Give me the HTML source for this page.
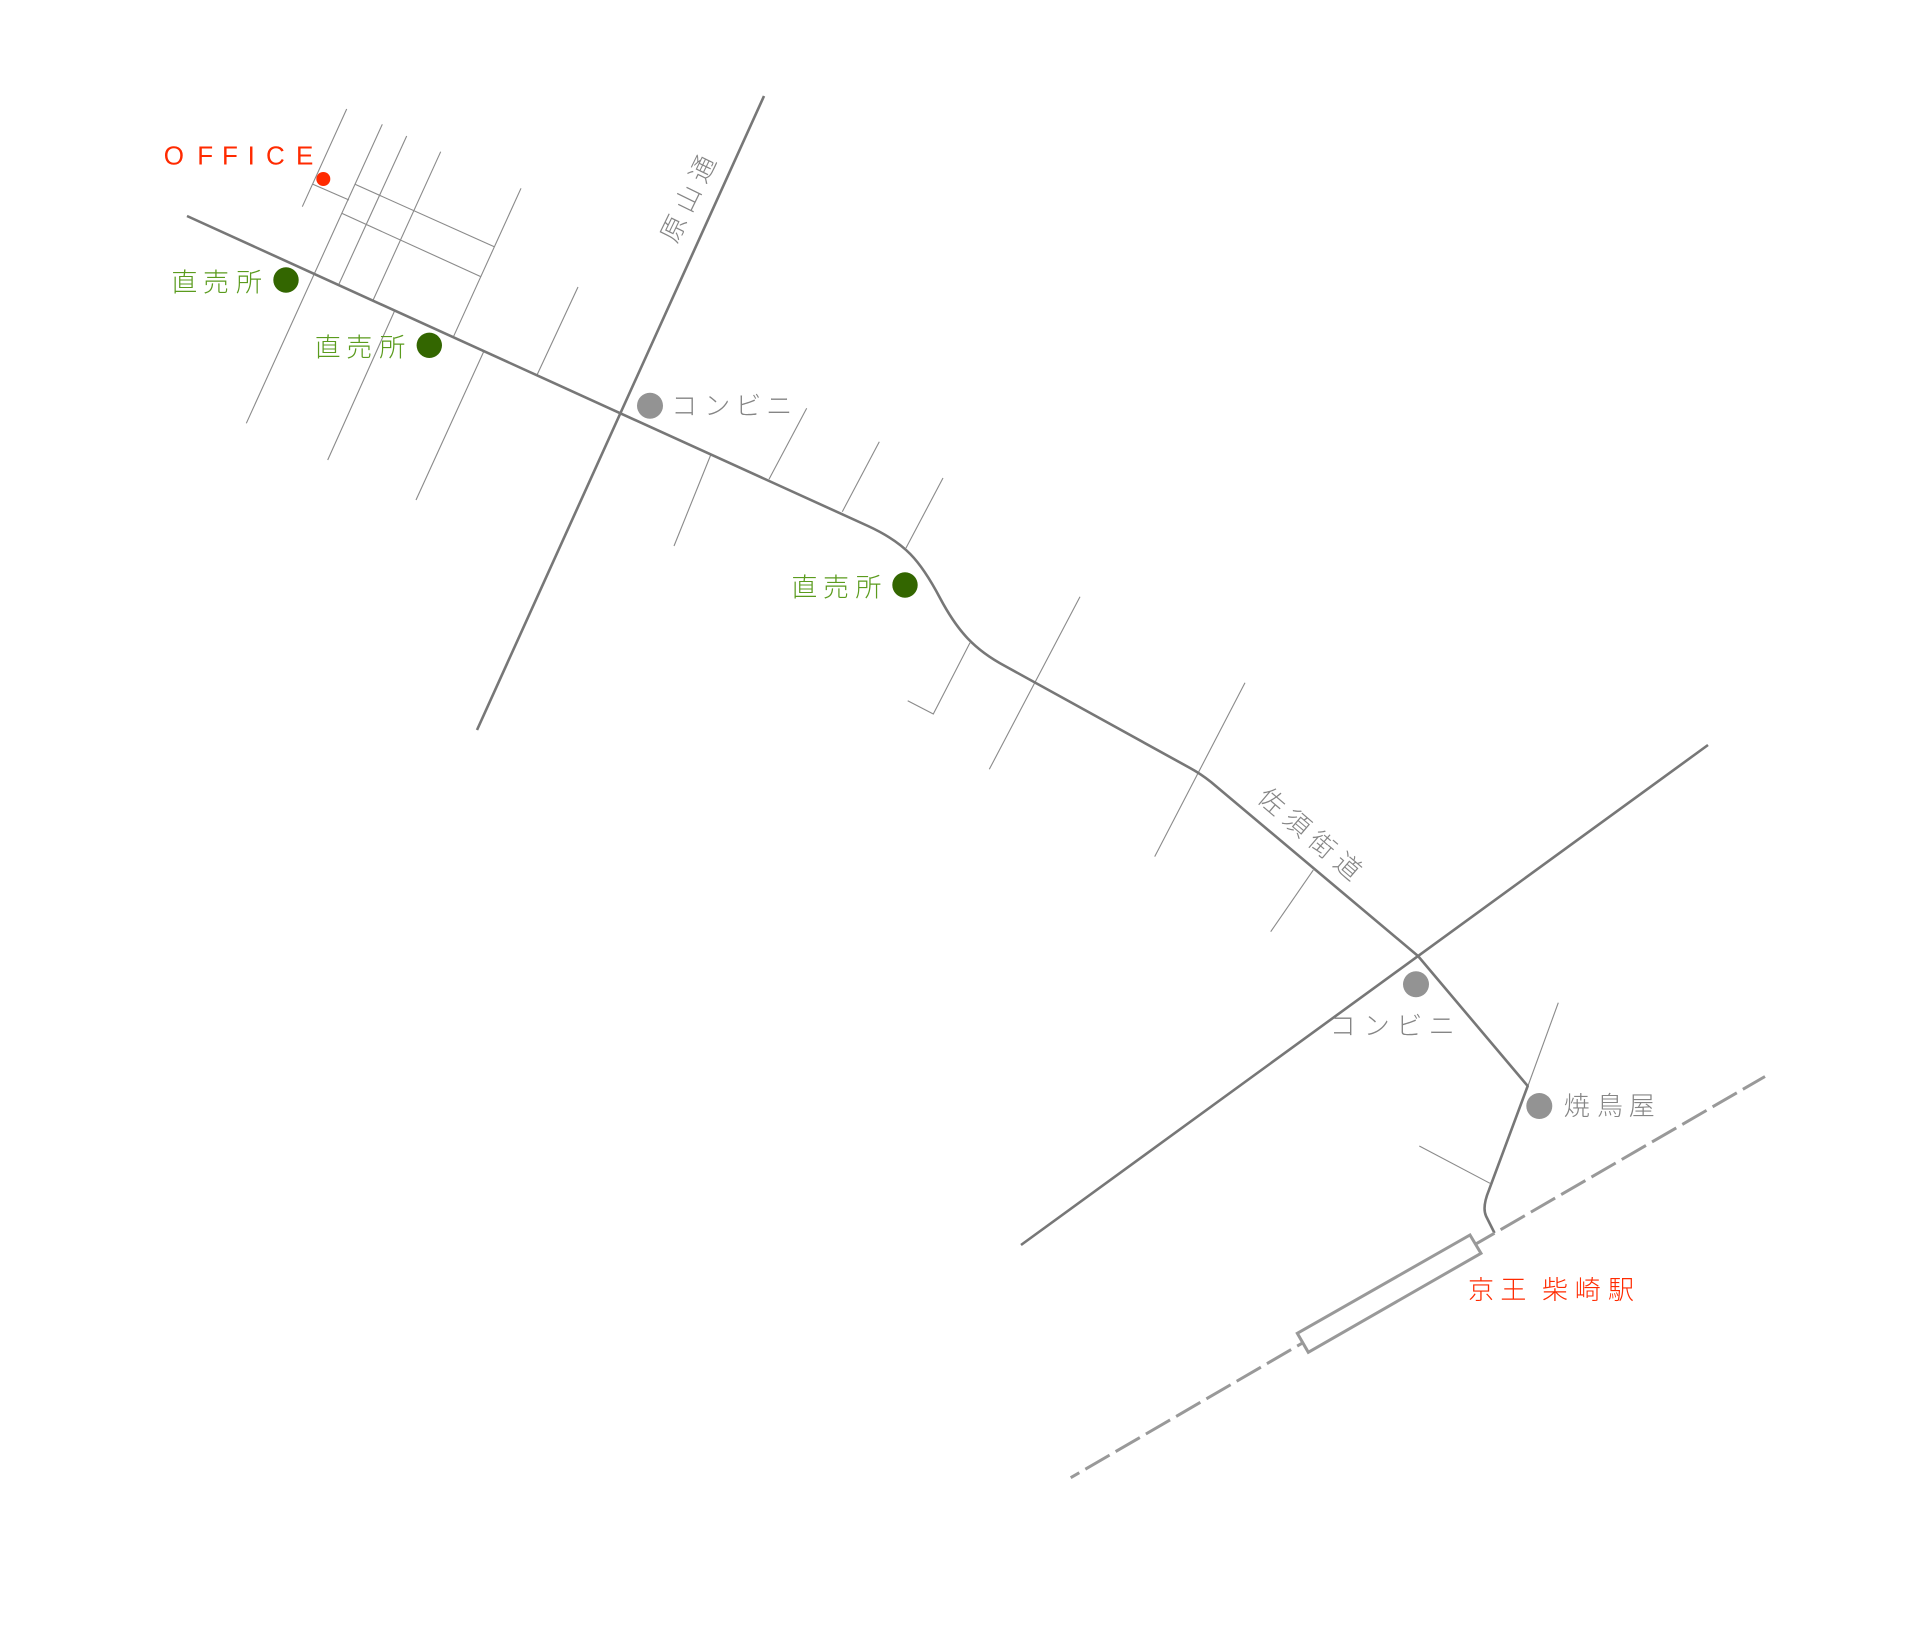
<!DOCTYPE html>
<html><head><meta charset="utf-8"><style>
html,body{margin:0;padding:0;background:#fff;}
svg{display:block;}
.cjk{font-family:"Liberation Sans","Noto Sans CJK JP",sans-serif;font-size:26px;font-weight:300;}
</style></head><body>
<svg width="1920" height="1637" viewBox="0 0 1920 1637" xmlns="http://www.w3.org/2000/svg">
<rect width="1920" height="1637" fill="#fff"/>
<!-- thin streets -->
<g stroke="#8a8a8a" stroke-width="1.1" fill="none" stroke-linecap="butt">
<line x1="346.7" y1="109" x2="302.3" y2="206.7"/>
<line x1="312.3" y1="184" x2="349" y2="200"/>
<line x1="382.3" y1="124.3" x2="246.3" y2="423.3"/>
<line x1="406.7" y1="136" x2="339" y2="284"/>
<line x1="440.7" y1="151.7" x2="372.7" y2="301"/>
<line x1="521" y1="188.3" x2="453" y2="337.7"/>
<line x1="395" y1="310" x2="327.7" y2="460"/>
<line x1="484" y1="351" x2="416" y2="500"/>
<line x1="578" y1="287" x2="537" y2="375"/>
<line x1="355" y1="184.3" x2="494.3" y2="246.7"/>
<line x1="341.7" y1="213.3" x2="481" y2="276.7"/>
<line x1="710.7" y1="455" x2="674" y2="546"/>
<line x1="806.7" y1="408.3" x2="769" y2="479.3"/>
<line x1="879.3" y1="441.7" x2="842.3" y2="511.7"/>
<line x1="943" y1="478" x2="906" y2="548"/>
<polyline points="970,642.7 933.3,714 907.7,700.7"/>
<line x1="1080" y1="596.7" x2="989.3" y2="769.3"/>
<line x1="1245" y1="682.7" x2="1154.7" y2="856.6"/>
<line x1="1313.3" y1="870" x2="1270.7" y2="931.7"/>
<line x1="1558.3" y1="1002.7" x2="1528.3" y2="1085"/>
<line x1="1419.3" y1="1146" x2="1490" y2="1183.3"/>
</g>
<!-- main roads -->
<g stroke="#777" stroke-width="2.6" fill="none" stroke-linejoin="round">
<line x1="764" y1="96" x2="477" y2="730"/>
<line x1="1708" y1="745" x2="1021" y2="1245"/>
<path d="M187 216 L868 526 C905 543 920 560 940 598 C958 632 975 650 1005 666 L1190 768 Q1201 774 1211 782 L1418 956 L1527.7 1086 L1489 1190 Q1482 1207 1486 1216 L1494.5 1233"/>
</g>
<!-- railway -->
<g stroke="#999" stroke-width="3" fill="none">
<path d="M1475.5 1244.2 L1765 1076.5" stroke-dasharray="28 7" stroke-dashoffset="6"/>
<path d="M1302.8 1342.8 L1070.7 1477.7" stroke-dasharray="28 7" stroke-dashoffset="21.5"/>
<polygon points="1297.3,1333.3 1470,1235 1481,1253.3 1308.3,1352.3" fill="#fff"/>
</g>
<!-- dots -->
<circle cx="323.3" cy="179" r="7" fill="#ff2a00"/>
<circle cx="286" cy="280" r="12.7" fill="#336600"/>
<circle cx="429.3" cy="345.3" r="12.7" fill="#336600"/>
<circle cx="905" cy="585" r="12.7" fill="#336600"/>
<circle cx="650" cy="405.7" r="13" fill="#939393"/>
<circle cx="1416" cy="984.3" r="13" fill="#939393"/>
<circle cx="1539.3" cy="1106" r="13" fill="#939393"/>
<!-- labels -->
<text x="163.7 197.3 222 247.6 266 296" y="164.5" font-family="'Liberation Sans',sans-serif" font-size="26" fill="#ff2a00">OFFICE</text>
<text class="cjk" x="171.4 203 236" y="291.5" fill="#5a9b1d">直売所</text>
<text class="cjk" x="314.7 346.3 379.3" y="356.5" fill="#5a9b1d">直売所</text>
<text class="cjk" x="791.4 823 855.4" y="596.5" fill="#5a9b1d">直売所</text>
<text class="cjk" x="671.3 704.3 735.3 766.3" y="415" fill="#858585">コンビニ</text>
<text class="cjk" x="1329.7 1363.7 1396.3 1428.7" y="1035" fill="#858585">コンビニ</text>
<text class="cjk" x="1563.7 1597 1628.7" y="1115" fill="#858585">焼鳥屋</text>
<text class="cjk" x="1468 1500.4 1530 1542 1574.7 1608" y="1299" fill="#ff2a00">京王 柴崎駅</text>
<g transform="translate(687.3,198.3) rotate(-64)">
<text class="cjk" x="-46.3 -13 20.3" y="10" fill="#858585">原山通</text>
</g>
<g transform="translate(1310.3,833.2) rotate(40.5)">
<text class="cjk" x="-63 -29.7 3.7 37" y="10" fill="#858585">佐須街道</text>
</g>
</svg>
</body></html>
